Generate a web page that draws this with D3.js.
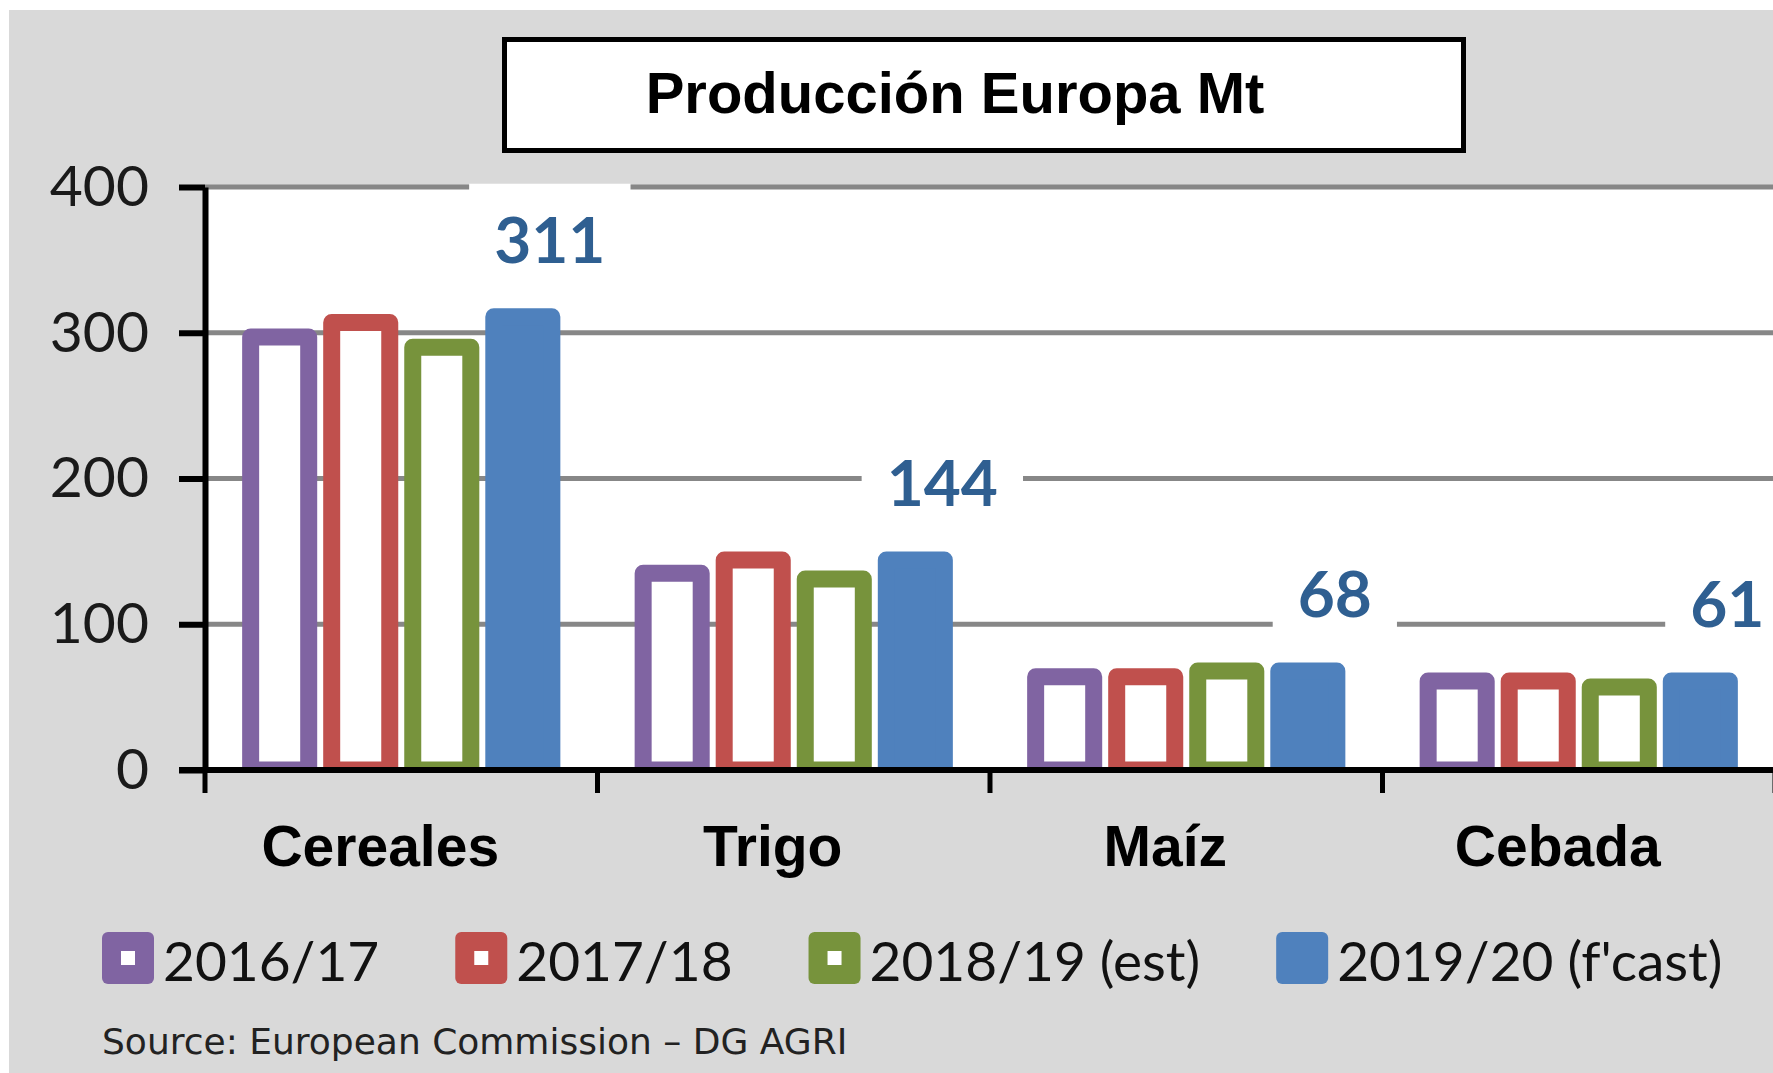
<!DOCTYPE html>
<html>
<head>
<meta charset="utf-8">
<script src="https://cdn.jsdelivr.net/npm/d3@7"></script>
<style>
  html, body { margin: 0; padding: 0; background: #fff; }
  svg { display: block; }
</style>
</head>
<body>
<svg id="chart" width="1773" height="1073"></svg>
<script>
// EU production by crop and marketing year, million tonnes
const categories = ["Cereales", "Trigo", "Maíz", "Cebada"];
const seriesNames = ["2016/17", "2017/18", "2018/19 (est)", "2019/20 (f'cast)"];
const v2016 = [297, 135, 64, 61];
const v2017 = [307, 144, 64, 61];
const v2018 = [290, 131, 68, 57];
const v2019 = [311, 144, 68, 61];
const yTicks = [0, 100, 200, 300, 400];
const seriesColors = ["#8064A2", "#C0504D", "#77933C", "#4F81BD"];
const seriesFilled = [false, false, false, true];
const titleText = "Producción Europa Mt";
const sourceText = "Source: European Commission \u2013 DG AGRI";

const seriesValues = [v2016, v2017, v2018, v2019];

const W = 1773, H = 1073;
const svg = d3.select("#chart");

// grey chart background
svg.append("rect")
  .attr("x", 9).attr("y", 10)
  .attr("width", W - 9).attr("height", H - 10)
  .attr("fill", "#D9D9D9");

const x0 = d3.scaleBand().domain(categories).range([205, 1775]).padding(0);
const groupW = x0.bandwidth() * 0.826;
const x1 = d3.scaleBand().domain(seriesNames).range([0, groupW]).padding(0);
const y = d3.scaleLinear().domain([0, 400]).range([770, 187]);
const groupLeft = c => x0(c) + (x0.bandwidth() - groupW) / 2;

// white plot area
svg.append("rect")
  .attr("x", x0.range()[0]).attr("y", y(400))
  .attr("width", W - x0.range()[0]).attr("height", y(0) - y(400))
  .attr("fill", "#fff");

// horizontal gridlines
svg.append("g").selectAll("line")
  .data(yTicks.filter(t => t > 0))
  .join("line")
  .attr("x1", x0.range()[0]).attr("x2", W)
  .attr("y1", d => y(d)).attr("y2", d => y(d))
  .attr("stroke", "#878787").attr("stroke-width", 5);

// bars, clipped at the baseline
svg.append("defs").append("clipPath").attr("id", "plotClip")
  .append("rect").attr("x", 0).attr("y", 0).attr("width", W).attr("height", y(0));

const barStroke = 17;
const groups = svg.append("g").attr("clip-path", "url(#plotClip)")
  .selectAll("g").data(categories).join("g")
  .attr("transform", c => `translate(${groupLeft(c)},0)`);

groups.selectAll("rect")
  .data((c, i) => seriesNames.map((s, j) => ({ s, j, v: seriesValues[j][i] })))
  .join("rect")
  .attr("x", d => x1(d.s) + 3 + barStroke / 2)
  .attr("width", x1.bandwidth() - 6 - barStroke)
  .attr("y", d => y(d.v))
  .attr("height", d => y(0) - y(d.v))
  .attr("fill", d => seriesFilled[d.j] ? seriesColors[d.j] : "#fff")
  .attr("stroke", d => seriesColors[d.j])
  .attr("stroke-width", barStroke)
  .attr("stroke-linejoin", "round");

// forecast value labels on white patches
const labelG = svg.append("g");
categories.forEach((c, i) => {
  const v = v2019[i];
  const cx = groupLeft(c) + x1(seriesNames[3]) + x1.bandwidth() / 2 + 27;
  const cy = y(v) - 77;
  const g = labelG.append("g");
  const t = g.append("text")
    .attr("x", cx).attr("y", cy + 23)
    .attr("text-anchor", "middle")
    .attr("font-family", "Lato, 'Open Sans', sans-serif")
    .attr("font-weight", "bold")
    .attr("font-size", 64)
    .attr("fill", "#2F5F91")
    .text(v);
  const bb = t.node().getBBox();
  g.insert("rect", "text")
    .attr("x", bb.x - 25).attr("width", bb.width + 50)
    .attr("y", cy - 56).attr("height", 106)
    .attr("fill", "#fff");
});

// y axis
const yAxis = svg.append("g")
  .attr("transform", `translate(${x0.range()[0]},0)`)
  .call(d3.axisLeft(y).tickValues(yTicks).tickSize(26).tickSizeOuter(0).tickPadding(30))
  .attr("font-family", "Lato, 'Open Sans', sans-serif")
  .attr("font-size", 57);
yAxis.select(".domain").attr("stroke", "#000").attr("stroke-width", 6);
yAxis.selectAll(".tick line").attr("stroke", "#000").attr("stroke-width", 6);
yAxis.selectAll(".tick text").attr("fill", "#1a1a1a");

// x axis baseline and category boundary ticks
svg.append("line")
  .attr("x1", x0.range()[0] - 26).attr("x2", W)
  .attr("y1", y(0)).attr("y2", y(0))
  .attr("stroke", "#000").attr("stroke-width", 6);

const boundaries = categories.map(c => x0(c)).concat([x0.range()[1]]);
svg.append("g").selectAll("line").data(boundaries).join("line")
  .attr("x1", d => d).attr("x2", d => d)
  .attr("y1", y(0)).attr("y2", y(0) + 23)
  .attr("stroke", "#000").attr("stroke-width", 5);

svg.append("g").selectAll("text").data(categories).join("text")
  .attr("x", c => x0(c) + x0.bandwidth() / 2 - 21)
  .attr("y", 866)
  .attr("text-anchor", "middle")
  .attr("font-family", "'Liberation Sans', Arial, sans-serif")
  .attr("font-weight", "bold")
  .attr("font-size", 57)
  .attr("fill", "#000")
  .text(c => c);

// title box
svg.append("rect")
  .attr("x", 504.5).attr("y", 39.5)
  .attr("width", 959).attr("height", 111)
  .attr("fill", "#fff").attr("stroke", "#000").attr("stroke-width", 5);
svg.append("text")
  .attr("x", 955).attr("y", 113)
  .attr("text-anchor", "middle")
  .attr("font-family", "'Liberation Sans', Arial, sans-serif")
  .attr("font-weight", "bold")
  .attr("font-size", 58)
  .attr("fill", "#000")
  .text(titleText);

// legend
const legend = svg.append("g");
let lx = 102;
const swatch = 52, swTop = 932;
seriesNames.forEach((name, j) => {
  const g = legend.append("g");
  g.append("rect")
    .attr("x", lx).attr("y", swTop).attr("width", swatch).attr("height", swatch)
    .attr("rx", 6).attr("fill", seriesColors[j]);
  if (!seriesFilled[j]) {
    g.append("rect")
      .attr("x", lx + swatch / 2 - 7).attr("y", swTop + swatch / 2 - 7)
      .attr("width", 14).attr("height", 14)
      .attr("fill", "#fff");
  }
  const t = g.append("text")
    .attr("x", lx + swatch + 9).attr("y", 981)
    .attr("font-family", "Lato, 'Open Sans', sans-serif")
    .attr("font-size", 55)
    .attr("fill", "#111")
    .text(name);
  lx += swatch + 9 + t.node().getComputedTextLength() + 76;
});

// source note
svg.append("text")
  .attr("x", 102).attr("y", 1054)
  .attr("font-family", "'DejaVu Sans', Verdana, sans-serif")
  .attr("font-size", 36)
  .attr("fill", "#222")
  .text(sourceText);
</script>
</body>
</html>
